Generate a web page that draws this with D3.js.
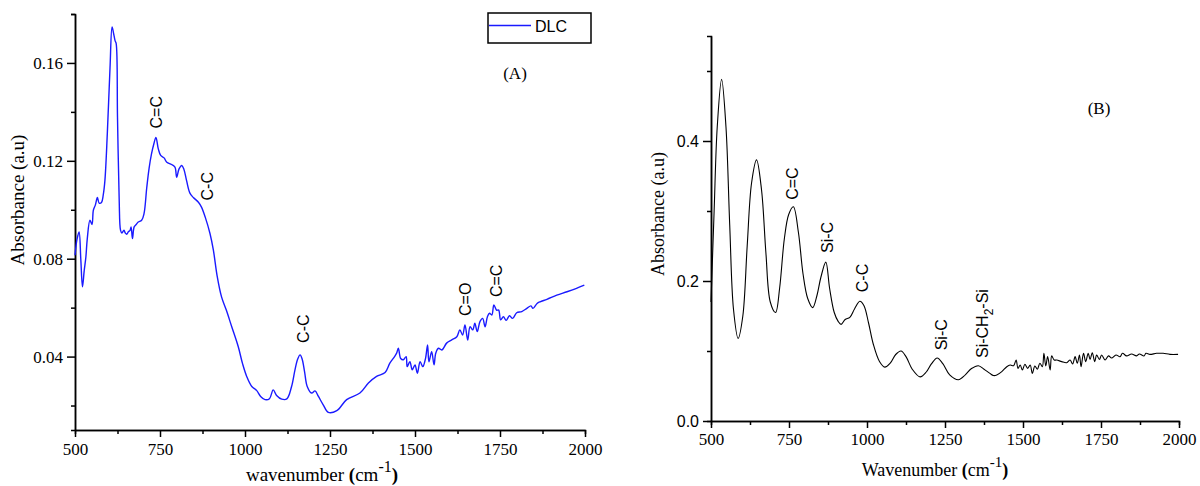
<!DOCTYPE html>
<html>
<head>
<meta charset="utf-8">
<script src="https://cdn.jsdelivr.net/npm/d3@7"></script>
<style>
  body { margin: 0; background: #fff; }
  svg { display: block; }
  .axis path, .axis line { stroke: #000; stroke-width: 1.5px; }
  .serif text { font-family: "Liberation Serif", "Times New Roman", serif; font-size: 17px; fill: #000; }
  .sans text { font-family: "Liberation Sans", Arial, sans-serif; font-size: 16px; fill: #000; }
  .axistitle { font-family: "Liberation Serif", "Times New Roman", serif; fill: #000; }
  .peak { font-family: "Liberation Sans", Arial, sans-serif; font-size: 16px; fill: #000; }
  .tag { font-family: "Liberation Serif", "Times New Roman", serif; font-size: 17px; fill: #000; }
</style>
</head>
<body>
<svg id="chart" width="1200" height="486"></svg>
<script>
// ---- panel A : DLC spectrum ----
const dlcWave = [500,506,512,517,522,527,532,536,544,550,554,560,566,571,578,583,588,595,603,609,613,618,621,625,630,634,638,644,648,652,657,662,665,669,674,680,686,696,703,711,718,725,732,738,745,752,762,770,784,794,799,806,814,820,828,838,848,863,872,883,897,907,918,931,945,961,980,993,1005,1020,1034,1046,1059,1072,1083,1093,1108,1123,1137,1147,1155,1162,1168,1175,1183,1196,1206,1216,1230,1245,1270,1299,1338,1363,1387,1412,1426,1440,1446,1451,1458,1466,1474,1477,1485,1492,1500,1507,1515,1523,1531,1537,1541,1549,1556,1561,1569,1579,1593,1608,1623,1632,1640,1647,1655,1662,1670,1676,1683,1691,1699,1706,1713,1719,1726,1732,1740,1746,1752,1760,1768,1778,1787,1799,1814,1829,1841,1847,1859,1868,1888,1917,1947,1975,1998];
const dlcAbs = [0.0814,0.088,0.0909,0.080,0.0685,0.075,0.0807,0.088,0.0957,0.094,0.0998,0.102,0.105,0.1027,0.103,0.106,0.112,0.131,0.158,0.1747,0.1724,0.169,0.168,0.1378,0.1038,0.0916,0.0905,0.0916,0.0905,0.0900,0.091,0.0916,0.093,0.0882,0.093,0.094,0.095,0.0957,0.0984,0.109,0.117,0.1228,0.127,0.1296,0.1249,0.1222,0.1212,0.1194,0.1185,0.1174,0.1133,0.1167,0.1181,0.1167,0.112,0.1068,0.105,0.1031,0.1011,0.097,0.0903,0.0835,0.073,0.0644,0.059,0.0522,0.0441,0.037,0.0319,0.0278,0.0262,0.0237,0.0224,0.0228,0.0264,0.0241,0.0226,0.0227,0.0278,0.0346,0.039,0.0407,0.039,0.034,0.0278,0.0251,0.026,0.0237,0.0203,0.0172,0.0179,0.0224,0.0251,0.0292,0.0319,0.0335,0.0373,0.040,0.0414,0.0434,0.0392,0.0387,0.040,0.0359,0.0379,0.0346,0.0366,0.0332,0.0379,0.0359,0.0393,0.0448,0.0379,0.042,0.0366,0.0414,0.0434,0.0427,0.0455,0.0468,0.0481,0.0509,0.0488,0.0529,0.0468,0.0522,0.0509,0.0536,0.0502,0.0543,0.0556,0.0522,0.0563,0.0577,0.057,0.0611,0.059,0.059,0.055,0.0563,0.0548,0.0567,0.0556,0.0579,0.0584,0.0597,0.0607,0.0597,0.0617,0.0624,0.0634,0.0651,0.0665,0.0679,0.0692];
const dlcTicksMajorX = [500,750,1000,1250,1500,1750,2000];
const dlcTicksMinorX = [625,875,1125,1375,1625,1875];
const dlcTicksMajorY = [0.04,0.08,0.12,0.16];
const dlcTicksMinorY = [0.02,0.06,0.10,0.14,0.18];
const dlcPeakText = ["C=C","C-C","C-C","C=O","C=C"];
const dlcPeakWave = [738,888,1171,1647,1738];
const dlcPeakAbs = [0.1332,0.1038,0.0456,0.0566,0.0643];

// ---- panel B : Si-doped film spectrum ----
const siWave = [500,510,520,534,548,560,572,587,602,616,630,646,662,676,690,707,720,735,749,764,780,795,810,826,840,852,868,880,895,908,917,930,945,960,977,990,1005,1020,1040,1057,1075,1092,1109,1125,1145,1170,1190,1207,1225,1243,1265,1293,1315,1335,1357,1375,1394,1405,1416,1432,1448,1459,1470,1478,1484,1491,1498,1506,1515,1523,1530,1538,1546,1554,1562,1567,1573,1579,1587,1592,1600,1608,1624,1640,1651,1659,1667,1674,1681,1686,1694,1701,1709,1715,1722,1730,1736,1745,1752,1763,1774,1784,1798,1811,1819,1832,1848,1864,1873,1888,1894,1907,1928,1949,1971,1997];
const siAbs = [0.17,0.30,0.42,0.488,0.42,0.28,0.16,0.118,0.15,0.25,0.34,0.373,0.33,0.24,0.17,0.155,0.19,0.26,0.295,0.306,0.27,0.21,0.175,0.162,0.18,0.205,0.227,0.19,0.155,0.142,0.138,0.145,0.148,0.16,0.171,0.165,0.14,0.11,0.085,0.077,0.083,0.095,0.100,0.092,0.074,0.063,0.070,0.082,0.090,0.082,0.066,0.059,0.066,0.075,0.079,0.074,0.068,0.065,0.0657,0.0705,0.0776,0.080,0.079,0.0871,0.0752,0.080,0.0729,0.081,0.0752,0.080,0.068,0.0786,0.074,0.0824,0.0776,0.0967,0.0786,0.0919,0.0729,0.093,0.0871,0.0871,0.0848,0.0833,0.0871,0.0814,0.0919,0.0824,0.0943,0.0776,0.0967,0.0848,0.0967,0.088,0.0976,0.0848,0.0943,0.088,0.0943,0.0871,0.093,0.090,0.0943,0.0919,0.0967,0.093,0.0957,0.093,0.0957,0.093,0.0967,0.0952,0.0967,0.0967,0.0952,0.0952];
const siTicksMajorY = [0.0,0.2,0.4];
const siTicksMinorY = [0.1,0.3,0.5];
const siPeakText = ["C=C","Si-C","C-C","Si-C","Si-CH2-Si"];
const siPeakWave = [760,872,984,1237,1369];
const siPeakAbs = [0.316,0.24,0.184,0.101,0.09];

const svg = d3.select("#chart");

function drawPanel(opt){
    const g = svg.append("g");
    const xScale = d3.scaleLinear().domain([500,2000]).range(opt.xr);
    const yScale = d3.scaleLinear().domain(opt.yd).range(opt.yr);

    // minor ticks first, then major with labels
    g.append("g").attr("class", "axis").attr("transform", `translate(0,${opt.yr[0]})`)
        .call(d3.axisBottom(xScale).tickValues(dlcTicksMinorX).tickSize(4).tickFormat(""));
    g.append("g").attr("class", "axis serif").attr("transform", `translate(0,${opt.yr[0]})`)
        .call(d3.axisBottom(xScale).tickValues(dlcTicksMajorX).tickSize(7).tickSizeOuter(0).tickPadding(opt.xpad).tickFormat(d3.format("d")));
    g.append("g").attr("class", "axis").attr("transform", `translate(${opt.xr[0]},0)`)
        .call(d3.axisLeft(yScale).tickValues(opt.minorY).tickSize(4).tickFormat(""));
    g.append("g").attr("class", "axis " + opt.yfont).attr("transform", `translate(${opt.xr[0]},0)`)
        .call(d3.axisLeft(yScale).tickValues(opt.majorY).tickSize(8).tickSizeOuter(0).tickPadding(4).tickFormat(d3.format(opt.yfmt)));

    const pts = opt.wave.map((w, i) => [w, opt.abs[i]]);
    const line = d3.line().x(d => xScale(d[0])).y(d => yScale(d[1])).curve(d3.curveCatmullRom.alpha(0.5));
    g.append("path").attr("d", line(pts)).attr("fill", "none")
        .attr("stroke", opt.color).attr("stroke-width", opt.lw).attr("stroke-linejoin", "round");

    // peak assignments, rotated
    opt.peakText.forEach((t, i) => {
        const px = xScale(opt.peakWave[i]) + 6, py = yScale(opt.peakAbs[i]);
        const txt = g.append("text").attr("class", "peak")
            .attr("transform", `translate(${px},${py}) rotate(-90)`);
        if (t === "Si-CH2-Si") {
            txt.append("tspan").text("Si-CH");
            txt.append("tspan").attr("dy", 5).attr("font-size", 12).text("2");
            txt.append("tspan").attr("dy", -5).text("-Si");
        } else {
            txt.text(t);
        }
    });

    // axis titles
    const xt = g.append("text").attr("class", "axistitle").attr("font-size", opt.tsize)
        .attr("x", opt.xtitle[0]).attr("y", opt.xtitle[1]).attr("text-anchor", "middle");
    xt.append("tspan").text(opt.xname + " ");
    xt.append("tspan").attr("font-weight", "bold").text("(");
    xt.append("tspan").text("cm");
    xt.append("tspan").attr("dy", -9).attr("font-size", opt.tsize - 3).text("-1");
    xt.append("tspan").attr("dy", 9).attr("font-weight", "bold").text(")");

    g.append("text").attr("class", "axistitle").attr("font-size", opt.tsize)
        .attr("text-anchor", "middle")
        .attr("transform", `translate(${opt.ytitle[0]},${opt.ytitle[1]}) rotate(-90)`)
        .text("Absorbance (a.u)");

    g.append("text").attr("class", "tag").attr("x", opt.tag[0]).attr("y", opt.tag[1])
        .attr("text-anchor", "middle").text(opt.tagText);
    return g;
}

const gA = drawPanel({
    xr: [75,585], yr: [430,14], yd: [0.01,0.18],
    majorY: dlcTicksMajorY, minorY: dlcTicksMinorY, yfmt: ".2f", yfont: "serif", xpad: 6,
    wave: dlcWave, abs: dlcAbs, color: "#1a1aff", lw: 1.4,
    peakText: dlcPeakText, peakWave: dlcPeakWave, peakAbs: dlcPeakAbs,
    xname: "wavenumber", xtitle: [322,481], ytitle: [24,200], tsize: 19,
    tag: [515,79], tagText: "(A)"
});

// legend
gA.append("rect").attr("x", 488).attr("y", 13).attr("width", 103).attr("height", 30)
    .attr("fill", "#fff").attr("stroke", "#000").attr("stroke-width", 1.5);
gA.append("line").attr("x1", 489).attr("x2", 531).attr("y1", 25.5).attr("y2", 25.5)
    .attr("stroke", "#1a1aff").attr("stroke-width", 1.6);
gA.append("text").attr("class", "peak").attr("x", 535).attr("y", 32).text("DLC");

drawPanel({
    xr: [711,1179], yr: [421,36], yd: [0,0.55],
    majorY: siTicksMajorY, minorY: siTicksMinorY, yfmt: ".1f", yfont: "sans", xpad: 5,
    wave: siWave, abs: siAbs, color: "#000", lw: 1.1,
    peakText: siPeakText, peakWave: siPeakWave, peakAbs: siPeakAbs,
    xname: "Wavenumber", xtitle: [935,476], ytitle: [664,214], tsize: 18,
    tag: [1099,114], tagText: "(B)"
});
</script>
</body>
</html>
